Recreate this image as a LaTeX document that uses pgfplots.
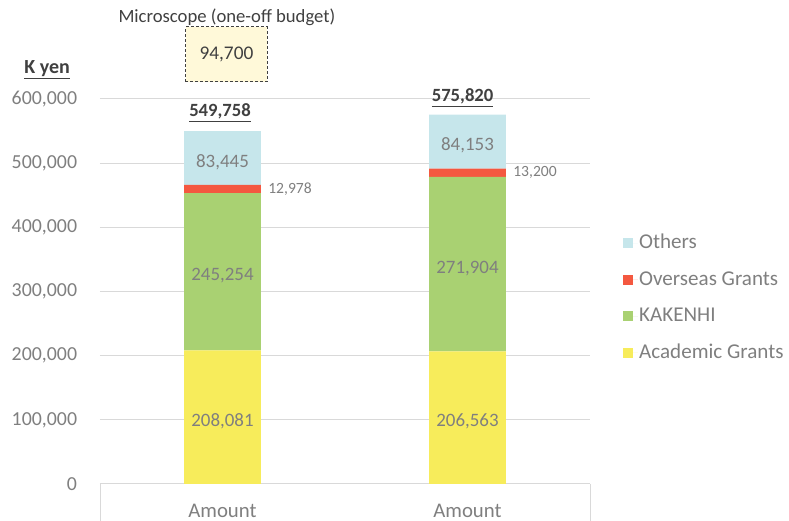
\documentclass[border=0pt]{standalone}
\usepackage{fontspec}
\setmainfont{Carlito}
\usepackage{pgfplots}
\pgfplotsset{compat=1.18}
\definecolor{cOthers}{RGB}{198,230,235}
\definecolor{cOverseas}{RGB}{244,88,64}
\definecolor{cKakenhi}{RGB}{169,209,114}
\definecolor{cAcademic}{RGB}{247,236,91}
\definecolor{boxfill}{RGB}{255,249,217}
\definecolor{gridgray}{RGB}{217,217,217}
\definecolor{labelgray}{RGB}{127,127,127}
\definecolor{darktext}{RGB}{64,64,64}
\tikzset{lbl/.style={font=\fontsize{14.2}{17}\selectfont, text=labelgray, yshift=-3pt}}
\begin{document}
\begin{tikzpicture}
\path[use as bounding box, clip] (-75pt,-27.75pt) rectangle (516.75pt,363pt);
\begin{axis}[
  at={(0,0)}, anchor=south west,
  scale only axis, width=367.5pt, height=288.75pt,
  ybar stacked, bar width=0.314,
  xmin=-0.5, xmax=1.5, ymin=0, ymax=600000,
  xtick={0,1}, xticklabels={Amount,Amount},
  ytick={0,100000,200000,300000,400000,500000,600000},
  scaled y ticks=false,
  ymajorgrids, grid style={draw=gridgray, line width=0.75pt},
  axis x line*=bottom, axis y line*=left,
  y axis line style={draw=none},
  x axis line style={draw=gridgray, line width=0.75pt},
  major tick length=0pt,
  tick label style={text=labelgray},
  yticklabel style={font=\fontsize{14.9}{17}\selectfont,
    /pgf/number format/fixed, /pgf/number format/1000 sep={,},
    /pgf/number format/assume math mode=true, inner xsep=0pt, xshift=-17pt},
  xticklabel style={font=\fontsize{15.6}{18}\selectfont, inner sep=0pt, yshift=-15pt},
  clip=false,
  legend cell align=left,
  reverse legend,
  legend image code/.code={\fill[#1,draw=none] (0pt,-3.75pt) rectangle (7.5pt,3.75pt); \path (0pt,0pt) -- (11pt,0pt);},
  legend style={at={(1.059,0.483)}, anchor=west, draw=none, fill=none,
    font=\fontsize{15.8}{19}\selectfont, text=labelgray, row sep=11.4pt,
    nodes={inner sep=1pt, text height=11pt, text depth=3pt}},
]
\addplot[fill=cAcademic, draw=none] coordinates {(0,208081) (1,206563)};
\addlegendentry{Academic Grants}
\addplot[fill=cKakenhi, draw=none] coordinates {(0,245254) (1,271904)};
\addlegendentry{KAKENHI}
\addplot[fill=cOverseas, draw=none] coordinates {(0,12978) (1,13200)};
\addlegendentry{Overseas Grants}
\addplot[fill=cOthers, draw=none] coordinates {(0,83445) (1,84153)};
\addlegendentry{Others}

\coordinate (a1) at (axis cs:0,104040);
\coordinate (a2) at (axis cs:1,103282);
\coordinate (k1) at (axis cs:0,330708);
\coordinate (k2) at (axis cs:1,342515);
\coordinate (o1) at (axis cs:0,508036);
\coordinate (o2) at (axis cs:1,533744);
\coordinate (v1) at (axis cs:0.186,459824);
\coordinate (v2) at (axis cs:1.186,485067);
\coordinate (t1) at (axis cs:-0.01,578182);
\coordinate (t2) at (axis cs:0.98,601558);
\coordinate (ky) at (axis cs:-0.716,645194);
\coordinate (b1) at (axis cs:-0.149,626494);
\coordinate (b2) at (axis cs:0.182,712208);
\coordinate (bc) at (axis cs:0.016,669351);
\coordinate (mc) at (axis cs:0.018,727792);
\end{axis}
\draw[gridgray, line width=0.75pt] (0,0) -- (0,-30pt);
\draw[gridgray, line width=0.75pt] (367.5pt,0) -- (367.5pt,-30pt);
\node[lbl] at (a1) {208,081};
\node[lbl] at (a2) {206,563};
\node[lbl] at (k1) {245,254};
\node[lbl] at (k2) {271,904};
\node[lbl] at (o1) {83,445};
\node[lbl] at (o2) {84,153};
\node[font=\fontsize{11.7}{14}\selectfont, text=labelgray, anchor=west, inner sep=0pt] at (v1) {12,978};
\node[font=\fontsize{11.7}{14}\selectfont, text=labelgray, anchor=west, inner sep=0pt] at (v2) {13,200};
\node[font=\bfseries\fontsize{14}{17}\selectfont, text=darktext] at (t1) {\underline{549,758}};
\node[font=\bfseries\fontsize{14}{17}\selectfont, text=darktext] at (t2) {\underline{575,820}};
\node[font=\bfseries\fontsize{15}{18}\selectfont, text=darktext] at (ky) {\underline{K yen}};
\draw[dash pattern=on 2.25pt off 1.5pt, draw=darktext, fill=boxfill, line width=0.75pt] (b1) rectangle (b2);
\node[font=\fontsize{14.5}{17}\selectfont, text=darktext] at (bc) {94,700};
\node[font=\fontsize{14}{17}\selectfont, text=darktext] at (mc) {Microscope (one-off budget)};
\end{tikzpicture}
\end{document}
